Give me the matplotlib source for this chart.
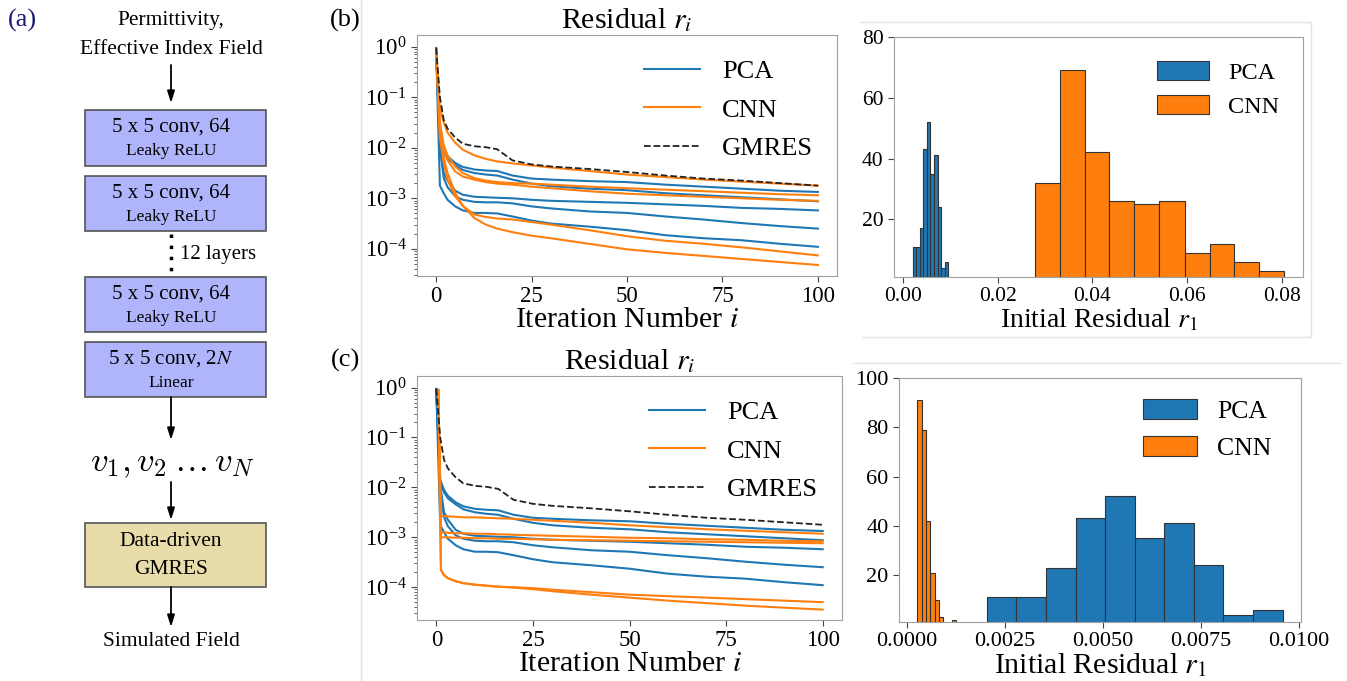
import numpy as np
import matplotlib
matplotlib.use('Agg')
import matplotlib.pyplot as plt
from matplotlib.patches import Rectangle
from matplotlib.lines import Line2D
from matplotlib.ticker import FormatStrFormatter

plt.rcParams['font.family'] = ['Liberation Serif', 'DejaVu Serif']
plt.rcParams['mathtext.fontset'] = 'stix'

# --- DATA ---
iters = [0, 1, 2, 3, 5, 7, 10, 13, 16, 20, 25, 30, 40, 50, 60, 70, 80, 90, 100]
iters_cnn_c = [0.5, 1.2, 2, 3, 5, 7, 10, 13, 16, 20, 25, 30, 40, 50, 60, 70, 80, 90, 100]

# log10 of the residual
gmres_log = [-0.03, -1.0, -1.45, -1.62, -1.8, -1.92, -1.97, -1.99, -2.03, -2.25, -2.33,
             -2.37, -2.42, -2.48, -2.55, -2.61, -2.65, -2.7, -2.75]

pca_log = [
    [-0.03, -1.85, -2.05, -2.17, -2.3, -2.38, -2.43, -2.45, -2.46, -2.55, -2.61, -2.63, -2.66, -2.68, -2.73, -2.77, -2.81, -2.85, -2.875],
    [-0.03, -1.9, -2.1, -2.22, -2.34, -2.44, -2.5, -2.53, -2.55, -2.63, -2.71, -2.76, -2.81, -2.84, -2.9, -2.94, -2.98, -3.02, -3.06],
    [-0.03, -1.95, -2.5, -2.65, -2.85, -2.93, -2.97, -2.98, -2.99, -3.0, -3.03, -3.05, -3.07, -3.09, -3.12, -3.15, -3.19, -3.21, -3.24],
    [-0.03, -2.0, -2.6, -2.78, -2.96, -3.03, -3.07, -3.08, -3.08, -3.1, -3.16, -3.2, -3.26, -3.29, -3.36, -3.42, -3.49, -3.55, -3.6],
    [-0.05, -2.75, -2.9, -3.03, -3.16, -3.24, -3.29, -3.29, -3.3, -3.36, -3.44, -3.5, -3.56, -3.63, -3.73, -3.79, -3.83, -3.9, -3.96],
]

cnn_b_log = [
    [-0.05, -1.2, -1.5, -1.7, -1.9, -2.04, -2.15, -2.22, -2.27, -2.31, -2.35, -2.39, -2.46, -2.53, -2.58, -2.63, -2.67, -2.71, -2.75],
    [-0.05, -1.5, -1.95, -2.15, -2.37, -2.5, -2.6, -2.65, -2.68, -2.7, -2.71, -2.73, -2.77, -2.8, -2.83, -2.86, -2.89, -2.92, -2.94],
    [-0.05, -1.6, -2.05, -2.25, -2.47, -2.57, -2.63, -2.68, -2.71, -2.73, -2.77, -2.8, -2.86, -2.91, -2.94, -2.97, -3.0, -3.03, -3.05],
    [-0.05, -1.8, -2.3, -2.63, -2.96, -3.15, -3.32, -3.37, -3.4, -3.42, -3.47, -3.52, -3.63, -3.75, -3.84, -3.9, -3.97, -4.05, -4.13],
    [-0.05, -1.7, -2.2, -2.5, -2.89, -3.15, -3.39, -3.52, -3.6, -3.67, -3.74, -3.79, -3.9, -4.01, -4.08, -4.14, -4.2, -4.26, -4.32],
]

cnn_c_log = [
    [-0.05, -2.58, -2.58, -2.58, -2.59, -2.6, -2.6, -2.61, -2.62, -2.63, -2.65, -2.67, -2.71, -2.76, -2.8, -2.84, -2.87, -2.9, -2.93],
    [-0.05, -2.9, -2.9, -2.91, -2.92, -2.92, -2.93, -2.93, -2.94, -2.95, -2.96, -2.97, -2.99, -3.01, -3.02, -3.04, -3.05, -3.07, -3.08],
    [-0.05, -3.0, -3.0, -3.0, -3.01, -3.01, -3.02, -3.02, -3.03, -3.03, -3.04, -3.05, -3.06, -3.07, -3.08, -3.09, -3.1, -3.11, -3.12],
    [-0.05, -3.65, -3.76, -3.82, -3.88, -3.92, -3.95, -3.97, -3.99, -4.0, -4.02, -4.05, -4.1, -4.15, -4.18, -4.21, -4.24, -4.27, -4.3],
    [-0.05, -3.65, -3.76, -3.82, -3.88, -3.92, -3.95, -3.97, -3.99, -4.01, -4.04, -4.08, -4.15, -4.21, -4.27, -4.32, -4.37, -4.41, -4.45],
]

# histograms of the initial residual (bin edges + counts)
pca_edges = [0.00204, 0.00279, 0.00355, 0.00430, 0.00506, 0.00581, 0.00656, 0.00732, 0.00807, 0.00883, 0.00958]
pca_counts_b = [11, 11, 17, 43, 52, 35, 41, 24, 4, 6]
pca_counts_c = [11, 11, 23, 43, 52, 35, 41, 24, 4, 6]
cnn_edges_b = [0.0278, 0.0331, 0.0384, 0.0436, 0.0489, 0.0542, 0.0595, 0.0648, 0.0700, 0.0753, 0.0806]
cnn_counts_b = [32, 69, 42, 26, 25, 26, 9, 12, 6, 3]
cnn_edges_c = [0.000263, 0.000374, 0.000484, 0.000595, 0.000705, 0.000816, 0.000926, 0.001037, 0.001147, 0.001258]
cnn_counts_c = [91, 79, 42, 21, 10, 3, 0, 0, 2]

hist_b_xticks = [0.00, 0.02, 0.04, 0.06, 0.08]
hist_c_xticks = [0.0, 0.0025, 0.005, 0.0075, 0.01]

BLUE, ORANGE = '#1f77b4', '#ff7f0e'
SPINE = '#a0a0a0'
W, H = 1347, 681

fig = plt.figure(figsize=(W / 100, H / 100), dpi=100)

# --- (a) network diagram, drawn in pixel coordinates ---
axd = fig.add_axes([0, 0, 1, 1], zorder=0)
axd.set_xlim(0, W)
axd.set_ylim(H, 0)
axd.axis('off')

# faint screenshot borders
for xs, ys in [([361, 361], [0, H]), ([853, 1340], [363, 363]),
               ([860, 1311], [22, 22]), ([1311, 1311], [22, 337]), ([862, 1311], [337, 337])]:
    axd.add_line(Line2D(xs, ys, color='#e4e4e4', lw=1))

cx = 171
box_blue, box_tan = '#b0b4fa', '#e8dcaa'
for top, bot, l1, l2 in [(110, 166, '5 x 5 conv, 64', 'Leaky ReLU'),
                         (176, 231, '5 x 5 conv, 64', 'Leaky ReLU'),
                         (277, 332, '5 x 5 conv, 64', 'Leaky ReLU'),
                         (342, 397, r'5 x 5 conv, 2$N$', 'Linear')]:
    axd.add_patch(Rectangle((85, top), 181, bot - top, facecolor=box_blue, edgecolor='#555555', lw=1.2))
    axd.text(cx, top + 17, l1, ha='center', va='center', fontsize=15)
    axd.text(cx, top + 41, l2, ha='center', va='center', fontsize=12.5)

axd.add_patch(Rectangle((85, 523), 181, 64, facecolor=box_tan, edgecolor='#555555', lw=1.2))
axd.text(cx, 542, 'Data-driven', ha='center', va='center', fontsize=15.5)
axd.text(cx, 570, 'GMRES', ha='center', va='center', fontsize=15.5)

axd.text(cx, 21, 'Permittivity,', ha='center', va='center', fontsize=15.5)
axd.text(cx, 50, 'Effective Index Field', ha='center', va='center', fontsize=15.5)
axd.text(cx, 642, 'Simulated Field', ha='center', va='center', fontsize=15.5)
axd.text(cx + 2, 463, r'$v_1, v_2 \dots v_N$', ha='center', va='center', fontsize=25,
         math_fontfamily='cm')
axd.text(180, 255, '12 layers', ha='left', va='center', fontsize=15)
axd.plot([cx, cx], [234, 275], color='k', lw=2.5, linestyle=(0, (1, 2.2)))

for y0, y1 in [(65, 103), (397, 440), (482, 520), (587, 627)]:
    axd.annotate('', xy=(cx, y1), xytext=(cx, y0),
                 arrowprops=dict(arrowstyle='-|>,head_width=0.22,head_length=0.7',
                                 color='k', lw=1.3, shrinkA=0, shrinkB=0))

axd.text(22, 20, '(a)', ha='center', va='center', fontsize=19, color='#1c1c78')
axd.text(345, 20, '(b)', ha='center', va='center', fontsize=19)
axd.text(345, 360, '(c)', ha='center', va='center', fontsize=19)


def style_axes(ax, size):
    for s in ax.spines.values():
        s.set_color(SPINE)
    ax.tick_params(colors='#444444', labelcolor='k', labelsize=size, length=4)


def residual_panel(rect, cnn_iters, cnn_log, ylim):
    ax = fig.add_axes(rect)
    for k, p in enumerate(pca_log):
        ax.plot(iters, np.power(10.0, p), color=BLUE, lw=1.5, label='PCA' if k == 0 else None)
    for k, c in enumerate(cnn_log):
        ax.plot(cnn_iters, np.power(10.0, c), color=ORANGE, lw=1.5, label='CNN' if k == 0 else None)
    ax.plot(iters, np.power(10.0, gmres_log), color='#222222', lw=1.3, ls='--', label='GMRES')
    ax.set_yscale('log')
    ax.set_xlim(-5, 105)
    ax.set_ylim(*ylim)
    ax.set_xticks([0, 25, 50, 75, 100])
    ax.set_yticks([1e0, 1e-1, 1e-2, 1e-3, 1e-4])
    style_axes(ax, 16.5)
    ax.tick_params(which='minor', length=2, colors='#444444')
    ax.set_title(r'Residual $r_i$', fontsize=21.5, pad=5)
    ax.set_xlabel(r'Iteration Number $i$', fontsize=21.5, labelpad=0)
    ax.legend(loc='upper right', bbox_to_anchor=(1.0, 0.995), frameon=False, fontsize=19,
              handlelength=2.1, handletextpad=0.85, labelspacing=0.56)
    return ax


def hist_panel(rect, series, ylim, yticks, xticks, fmt, tsize, lsize, legsize, anchor, lspace):
    ax = fig.add_axes(rect)
    for edges, counts, col, lab in series:
        ax.hist(edges[:-1], bins=edges, weights=counts, color=col, edgecolor='#333333',
                linewidth=0.8, label=lab)
    ax.set_ylim(*ylim)
    ax.set_yticks(yticks)
    ax.set_xticks(xticks)
    ax.xaxis.set_major_formatter(FormatStrFormatter(fmt))
    style_axes(ax, tsize)
    ax.set_xlabel(r'Initial Residual $r_1$', fontsize=lsize, labelpad=0)
    h, l = ax.get_legend_handles_labels()
    order = [l.index('PCA'), l.index('CNN')]
    ax.legend([h[i] for i in order], [l[i] for i in order], loc='upper right',
              bbox_to_anchor=anchor, frameon=False, fontsize=legsize,
              handlelength=2.1, handleheight=0.8, handletextpad=0.8, labelspacing=lspace)
    return ax


residual_panel([417 / W, 1 - 276 / H, 420 / W, 241 / H], iters, cnn_b_log, (2.9e-5, 1.7))
residual_panel([417 / W, 1 - 620 / H, 425 / W, 244 / H], iters_cnn_c, cnn_c_log, (2.2e-5, 1.7))

hist_panel([894 / W, 1 - 277 / H, 409 / W, 240 / H],
           ((pca_edges, pca_counts_b, BLUE, 'PCA'), (cnn_edges_b, cnn_counts_b, ORANGE, 'CNN')),
           (1, 80), [20, 40, 60, 80], hist_b_xticks, '%.2f', 15.5, 20, 17.5, (0.995, 0.99), 0.45)
hist_panel([899 / W, 1 - 622 / H, 402 / W, 244 / H],
           ((cnn_edges_c, cnn_counts_c, ORANGE, 'CNN'), (pca_edges, pca_counts_c, BLUE, 'PCA')),
           (1, 100), [20, 40, 60, 80, 100], hist_c_xticks, '%.4f', 16, 21.5, 18.5, (0.985, 1.007), 0.5)

fig.savefig('out.png', dpi=100, facecolor='white')
